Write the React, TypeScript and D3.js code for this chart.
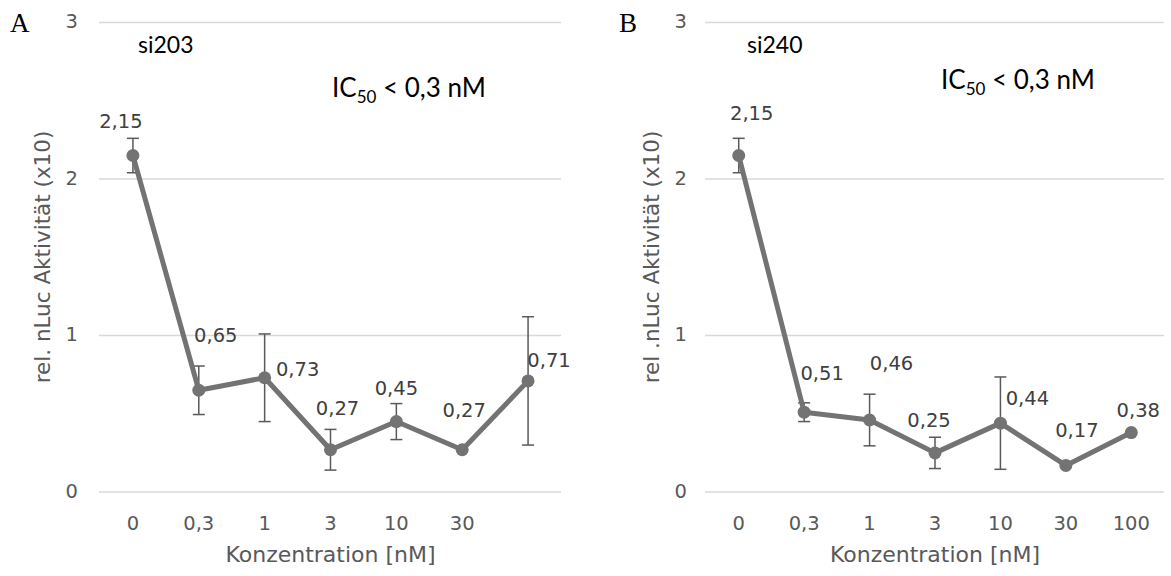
import React from 'react';
import * as d3 from 'd3';

// Konzentration [nM]
const categoriesA = ['0', '0,3', '1', '3', '10', '30', ''];
const categoriesB = ['0', '0,3', '1', '3', '10', '30', '100'];

// rel. nLuc Aktivität (x10)
const valuesA = [2.15, 0.65, 0.73, 0.27, 0.45, 0.27, 0.71];
const errorsA = [0.11, 0.155, 0.28, 0.13, 0.115, 0, 0.41];
const valuesB = [2.15, 0.51, 0.46, 0.25, 0.44, 0.17, 0.38];
const errorsB = [0.11, 0.06, 0.165, 0.1, 0.295, 0, 0];

const yTicks = [0, 1, 2, 3];

// label nudges (px) like the hand-moved labels in the original
const labelOffsetA = [[-12, -28], [17, -48], [33, -2], [7, -35], [0, -27], [2, -33], [21, -14]];
const labelOffsetB = [[13, -36], [18, -32], [22, -50], [-6, -26], [27, -18], [11, -28], [7, -16]];

const fmt = (v: number) => d3.format('.2f')(v).replace('.', ',');

const sans = 'DejaVu Sans, sans-serif';
const lineColor = '#737373';

type PanelProps = {
  letter: string;
  name: string;
  yTitle: string;
  cats: string[];
  values: number[];
  errors: number[];
  offsets: number[][];
  x0: number;
  left: number;
  right: number;
  icY: number;
};

const Panel = ({ letter, name, yTitle, cats, values, errors, offsets, x0, left, right, icY }: PanelProps) => {
  const y = d3.scaleLinear().domain([0, 3]).range([492, 22.5]);
  const x = d3.scaleBand<number>().domain(d3.range(cats.length)).range([left, right]);
  const cx = (i: number) => (x(i) as number) + x.bandwidth() / 2;

  const line = d3.line<number>()
    .x((d, i) => cx(i))
    .y(d => y(d));

  return (
    <g>
      <text x={x0 + 10} y={32} fontFamily="Liberation Serif, serif" fontSize={27} fill="#000">{letter}</text>

      {yTicks.map(t => (
        <g key={t}>
          <line x1={left - 1} x2={right} y1={y(t)} y2={y(t)} stroke="#d9d9d9" strokeWidth={1.5} />
          <text x={x0 + 78} y={y(t) - 1} textAnchor="end" dominantBaseline="central"
            fontFamily={sans} fontSize={19.5} fill="#595959">{t}</text>
        </g>
      ))}

      {cats.map((c, i) => (
        <text key={i} x={cx(i)} y={530} textAnchor="middle" fontFamily={sans} fontSize={19.5} fill="#595959">{c}</text>
      ))}

      <text x={(left + right) / 2} y={562} textAnchor="middle" fontFamily={sans} fontSize={22} fill="#595959">
        Konzentration [nM]
      </text>
      <text transform={`translate(${x0 + 50},257) rotate(-90)`} textAnchor="middle" fontFamily={sans}
        fontSize={21.5} fill="#595959">{yTitle}</text>

      {values.map((v, i) => errors[i] > 0 && (
        <g key={i} stroke="#595959" strokeWidth={1.5}>
          <line x1={cx(i)} x2={cx(i)} y1={y(v + errors[i])} y2={y(v - errors[i])} />
          <line x1={cx(i) - 6} x2={cx(i) + 6} y1={y(v + errors[i])} y2={y(v + errors[i])} />
          <line x1={cx(i) - 6} x2={cx(i) + 6} y1={y(v - errors[i])} y2={y(v - errors[i])} />
        </g>
      ))}

      <path d={line(values) as string} fill="none" stroke={lineColor} strokeWidth={5} strokeLinejoin="round" />
      {values.map((v, i) => (
        <circle key={i} cx={cx(i)} cy={y(v)} r={6.5} fill={lineColor} />
      ))}

      {values.map((v, i) => (
        <text key={i} x={cx(i) + offsets[i][0]} y={y(v) + offsets[i][1]} textAnchor="middle"
          fontFamily={sans} fontSize={19.5} fill="#404040">{fmt(v)}</text>
      ))}

      <text x={x0 + 138} y={53} fontFamily="Lato, sans-serif" fontSize={23} fill="#000">{name}</text>
      <text x={x0 + 332} y={icY} fontFamily="Lato, sans-serif" fontSize={26} fill="#000">
        IC<tspan fontSize={17} dy={6}>50</tspan><tspan dy={-6}> &lt; 0,3 nM</tspan>
      </text>
    </g>
  );
};

export default function App() {
  return (
    <svg width={1171} height={576} style={{ position: 'absolute', left: 0, top: 0, background: '#fff' }}>
      <rect width={1171} height={576} fill="#fff" />
      <Panel letter="A" name="si203" yTitle="rel. nLuc Aktivität (x10)" cats={categoriesA}
        values={valuesA} errors={errorsA} offsets={labelOffsetA} x0={0} left={100} right={561} icY={97} />
      <Panel letter="B" name="si240" yTitle="rel .nLuc Aktivität (x10)" cats={categoriesB}
        values={valuesB} errors={errorsB} offsets={labelOffsetB} x0={609} left={706} right={1164} icY={89} />
    </svg>
  );
}
